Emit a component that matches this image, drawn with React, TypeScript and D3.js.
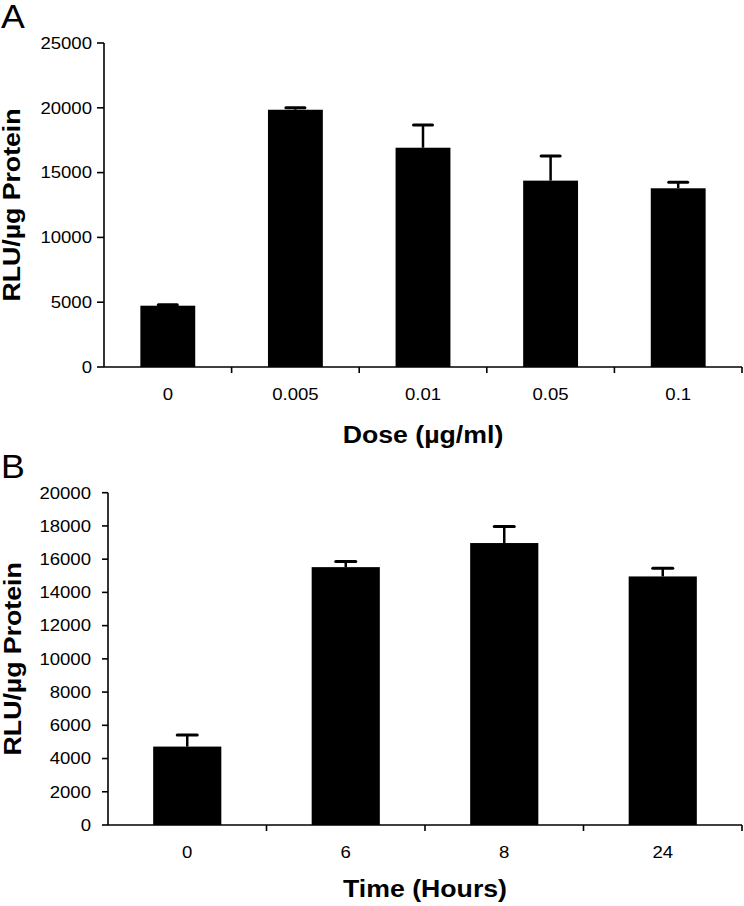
import React from "react";
import * as d3 from "d3";

const doseLabels = ["0", "0.005", "0.01", "0.05", "0.1"];
const doseMeans = [4730, 19850, 16920, 14380, 13790];
const doseErrors = [80, 150, 1750, 1900, 460];
const doseTicks = [0, 5000, 10000, 15000, 20000, 25000];

const timeLabels = ["0", "6", "8", "24"];
const timeMeans = [4720, 15520, 16970, 14960];
const timeErrors = [700, 340, 1000, 500];
const timeTicks = [0, 2000, 4000, 6000, 8000, 10000, 12000, 14000, 16000, 18000, 20000];

const FONT = "'Liberation Sans', Arial, Helvetica, sans-serif";
const SX = 1.16;

type PanelProps = {
  letter: string;
  letterY: number;
  labels: string[];
  means: number[];
  errors: number[];
  ticks: number[];
  yMax: number;
  x0: number;
  x1: number;
  yTop: number;
  yBottom: number;
  xTitle: string;
  titleBaseline: number;
  yTitleX: number;
  tickGap: number;
  tickLen: number;
  capW: number;
};

function Panel(p: PanelProps) {
  const x = d3
    .scaleBand<string>()
    .domain(p.labels)
    .range([p.x0, p.x1])
    .paddingInner(0.57)
    .paddingOuter(0.285);
  const y = d3.scaleLinear().domain([0, p.yMax]).range([p.yBottom, p.yTop]);
  const step = x.step();
  const boundaries = d3.range(p.labels.length + 1).map((i) => p.x0 + i * step);
  const midX = (p.x0 + p.x1) / 2;
  const midY = (p.yTop + p.yBottom) / 2;
  return (
    <g>
      <text
        transform={`translate(1,${p.letterY}) scale(1.05,1)`}
        fontFamily={FONT}
        fontSize={34}
        fill="#000"
      >
        {p.letter}
      </text>
      {/* bars */}
      {p.labels.map((l, i) => (
        <rect
          key={"b" + l}
          x={x(l)}
          y={y(p.means[i])}
          width={x.bandwidth()}
          height={y(0) - y(p.means[i])}
          fill="#000"
        />
      ))}
      {/* error bars */}
      {p.labels.map((l, i) => {
        const cx = (x(l) as number) + x.bandwidth() / 2;
        const top = y(p.means[i] + p.errors[i]);
        return (
          <g key={"e" + l}>
            <line x1={cx} x2={cx} y1={y(p.means[i])} y2={top} stroke="#000" strokeWidth={2.5} />
            <line
              x1={cx - p.capW / 2}
              x2={cx + p.capW / 2}
              y1={top}
              y2={top}
              stroke="#000"
              strokeWidth={3}
              strokeLinecap="round"
            />
          </g>
        );
      })}
      {/* y axis */}
      <line x1={p.x0} x2={p.x0} y1={p.yTop} y2={p.yBottom} stroke="#000" strokeWidth={1.6} />
      {p.ticks.map((t) => (
        <g key={"t" + t}>
          <line
            x1={p.x0 - p.tickLen}
            x2={p.x0}
            y1={y(t)}
            y2={y(t)}
            stroke="#000"
            strokeWidth={1.6}
          />
          <text
            transform={`translate(${p.x0 - p.tickGap},${y(t) + 5.8}) scale(${SX},1)`}
            textAnchor="end"
            fontFamily={FONT}
            fontSize={16}
            fill="#000"
          >
            {t}
          </text>
        </g>
      ))}
      {/* x axis */}
      <line x1={p.x0} x2={p.x1} y1={p.yBottom} y2={p.yBottom} stroke="#000" strokeWidth={1.6} />
      {boundaries.slice(1).map((bx, i) => (
        <line
          key={"xt" + i}
          x1={bx}
          x2={bx}
          y1={p.yBottom}
          y2={p.yBottom + 6}
          stroke="#000"
          strokeWidth={1.6}
        />
      ))}
      {p.labels.map((l) => (
        <text
          key={"xl" + l}
          transform={`translate(${(x(l) as number) + x.bandwidth() / 2},${p.yBottom + 33}) scale(${SX},1)`}
          textAnchor="middle"
          fontFamily={FONT}
          fontSize={16}
          fill="#000"
        >
          {l}
        </text>
      ))}
      <text
        transform={`translate(${midX},${p.titleBaseline}) scale(${SX},1)`}
        textAnchor="middle"
        fontFamily={FONT}
        fontWeight="bold"
        fontSize={23}
        fill="#000"
      >
        {p.xTitle}
      </text>
      <text
        transform={`translate(${p.yTitleX},${midY}) rotate(-90) scale(${SX},1)`}
        textAnchor="middle"
        fontFamily={FONT}
        fontWeight="bold"
        fontSize={23}
        fill="#000"
      >
        RLU/µg Protein
      </text>
    </g>
  );
}

export default function App() {
  return (
    <svg
      width={744}
      height={906}
      viewBox="0 0 744 906"
      style={{ position: "absolute", left: 0, top: 0, background: "#fff" }}
    >
      <rect x={0} y={0} width={744} height={906} fill="#fff" />
      <Panel
        letter="A"
        letterY={28}
        labels={doseLabels}
        means={doseMeans}
        errors={doseErrors}
        ticks={doseTicks}
        yMax={25000}
        x0={104}
        x1={742}
        yTop={43}
        yBottom={367}
        xTitle="Dose (µg/ml)"
        titleBaseline={443}
        yTitleX={20}
        tickGap={12}
        tickLen={7}
        capW={19}
      />
      <Panel
        letter="B"
        letterY={478}
        labels={timeLabels}
        means={timeMeans}
        errors={timeErrors}
        ticks={timeTicks}
        yMax={20000}
        x0={108}
        x1={742}
        yTop={492.7}
        yBottom={825}
        xTitle="Time (Hours)"
        titleBaseline={897}
        yTitleX={21}
        tickGap={17}
        tickLen={6}
        capW={20}
      />
    </svg>
  );
}
